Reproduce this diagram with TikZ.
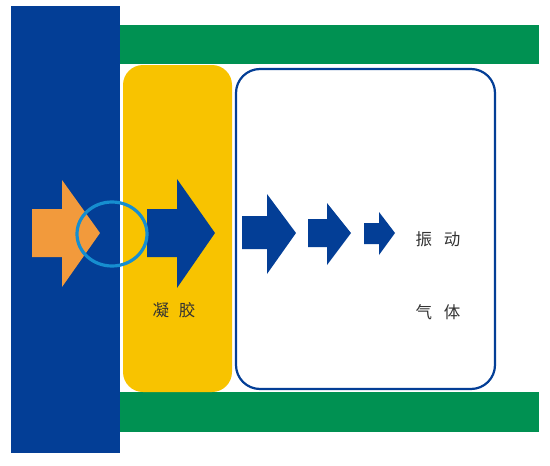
\documentclass[tikz,border=0pt]{standalone}
\usepackage{fontspec}
\newfontfamily\cjk{Noto Sans CJK SC}
\definecolor{dblue}{RGB}{3,62,150}
\definecolor{dgreen}{RGB}{0,145,82}
\definecolor{gold}{RGB}{248,195,0}
\definecolor{orng}{RGB}{242,154,60}
\definecolor{lblue}{RGB}{22,142,208}
\tikzset{
  lbl/.style={font=\cjk\fontsize{16.5}{16.5}\selectfont, text=black!80, inner sep=0pt},
  bluearrow/.style={fill=dblue, draw=none},
}
\begin{document}
\begin{tikzpicture}[x=1pt,y=-1pt]
\useasboundingbox (0,0) rectangle (550,466);
\fill[white] (0,0) rectangle (550,466);
% green bars
\fill[dgreen] (120,25) rectangle (539,64);
\fill[dgreen] (120,392) rectangle (539,432);
% yellow gel
\fill[gold, rounded corners=20pt] (123,65) rectangle (232,392);
% white box
\draw[dblue, line width=2.2pt, fill=white, rounded corners=24pt] (236,69) rectangle (495,389);
% blue wall
\fill[dblue] (11,6) rectangle (120,453);
% orange arrow
\fill[orng] (32,209) -- (62,209) -- (62,180) -- (100,233) -- (62,287) -- (62,257) -- (32,257) -- cycle;
% blue arrows
\fill[bluearrow] (147,209) -- (177,209) -- (177,179) -- (215,233) -- (177,288) -- (177,257) -- (147,257) -- cycle;
\fill[bluearrow] (242,216) -- (267,216) -- (267,194) -- (296,233) -- (267,274) -- (267,249) -- (242,249) -- cycle;
\fill[bluearrow] (308,219) -- (327,219) -- (327,203) -- (351,233) -- (327,265) -- (327,247) -- (308,247) -- cycle;
\fill[bluearrow] (364,223) -- (379,223) -- (379,212) -- (395,233) -- (379,255) -- (379,244) -- (364,244) -- cycle;
% circle
\draw[lblue, line width=3.2pt] (112,234) ellipse [x radius=35, y radius=32];
% labels
\node[lbl] (gel) at (174,310) {凝\hspace{10pt}胶};
\node[lbl] (vib) at (438,239) {振\hspace{12pt}动};
\node[lbl] (gas) at (438,312) {气\hspace{12pt}体};
\end{tikzpicture}
\end{document}
